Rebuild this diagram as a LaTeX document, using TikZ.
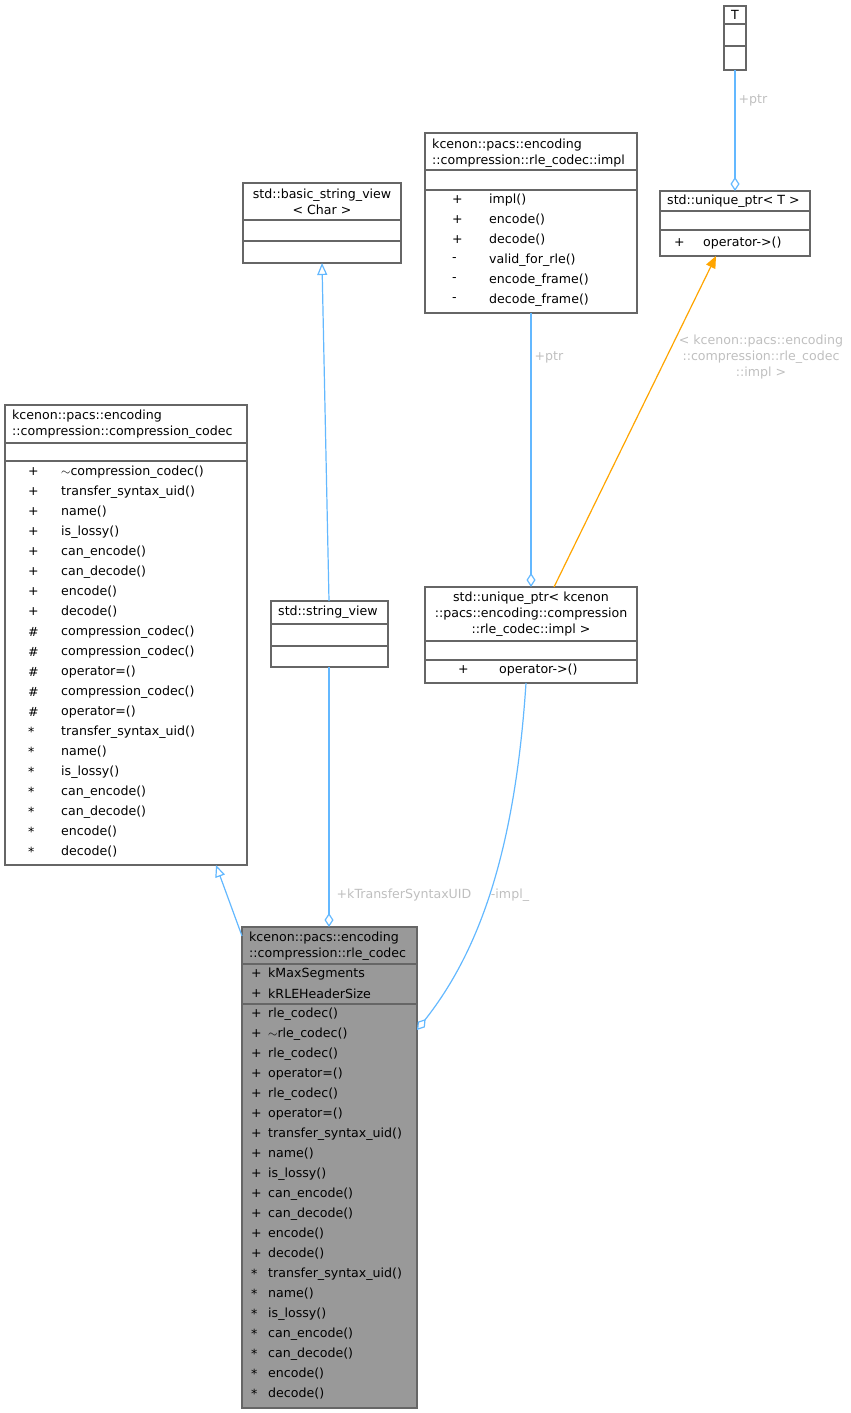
\documentclass[tikz,border=0pt]{standalone}
\usepackage{fontspec}
\setmainfont{DejaVu Sans}
\usetikzlibrary{arrows.meta}
\definecolor{edgeblue}{HTML}{63B8FF}
\definecolor{edgeorange}{HTML}{FFA500}
\definecolor{lblgray}{HTML}{BFBFBF}
\definecolor{boxgray}{HTML}{999999}
\definecolor{boxline}{HTML}{666666}
\tikzset{
  box/.style={draw=boxline,line width=1.2pt},
  txt/.style={inner sep=0pt,anchor=west,font=\fontsize{12.6}{16}\selectfont},
  ctxt/.style={inner sep=0pt,anchor=center,align=center,font=\fontsize{12.6}{16}\selectfont},
  lbl/.style={ctxt,text=lblgray},
  uses/.style={draw=edgeblue,line width=1.2pt,-{Diamond[open,length=14pt,width=9pt]}},
  inherit/.style={draw=edgeblue,line width=1.2pt,-{Triangle[open,length=12pt,width=10pt]}},
  tmpl/.style={draw=edgeorange,line width=1.2pt,-{Triangle[length=12pt,width=10pt,fill=edgeorange]}}
}
\begin{document}
\begin{tikzpicture}[x=1pt,y=-1pt]
\useasboundingbox (0,0) rectangle (851,1413);
% T
\path[box] (724,6) rectangle (746,70);
\draw[boxline,line width=1.2pt] (724,24) -- (746,24) (724,46) -- (746,46);
\node[ctxt] (tT) at (735,15) {T};
\coordinate (Tb) at (735,70);
% std::unique_ptr< T >
\path[box] (660,191) rectangle (810,256);
\draw[boxline,line width=1.2pt] (660,211) -- (810,211) (660,230) -- (810,230);
\node[txt] (tUT) at (667,201) {std::unique\_ptr< T >};
\node[txt] at (674,243) {+};
\node[txt] at (703,243) {operator->()};
\coordinate (UTt) at (735,191);
\coordinate (UTb) at (716,256);
% impl
\path[box] (425,133) rectangle (637,313);
\draw[boxline,line width=1.2pt] (425,170) -- (637,170) (425,190) -- (637,190);
\node[txt] (tImpl) at (432,145) {kcenon::pacs::encoding};
\node[txt] at (432,161) {::compression::rle\_codec::impl};
\foreach \s/\n [count=\i] in {+/impl(),+/encode(),+/decode(),-/valid\_for\_rle(),-/encode\_frame(),-/decode\_frame()}
  {\node[txt] at (452,180+20*\i) {\s}; \node[txt] at (489,180+20*\i) {\n};}
\coordinate (Ib) at (531,313);
% std::basic_string_view
\path[box] (243,183) rectangle (401,263);
\draw[boxline,line width=1.2pt] (243,220) -- (401,220) (243,241) -- (401,241);
\node[ctxt] (tBSV) at (322,202) {std::basic\_string\_view\\< Char >};
\coordinate (BSVb) at (322,263);
% compression_codec
\path[box] (5,405) rectangle (247,865);
\draw[boxline,line width=1.2pt] (5,443) -- (247,443) (5,461) -- (247,461);
\node[txt] (tCC) at (12,416) {kcenon::pacs::encoding};
\node[txt] at (12,432) {::compression::compression\_codec};
\foreach \s/\n [count=\i] in {+/$\sim$compression\_codec(),+/transfer\_syntax\_uid(),+/name(),+/is\_lossy(),+/can\_encode(),+/can\_decode(),+/encode(),+/decode(),\#/compression\_codec(),\#/compression\_codec(),\#/operator=(),\#/compression\_codec(),\#/operator=(),*/transfer\_syntax\_uid(),*/name(),*/is\_lossy(),*/can\_encode(),*/can\_decode(),*/encode(),*/decode()}
  {\node[txt] at (28,452+20*\i) {\s}; \node[txt] at (61,452+20*\i) {\n};}
\coordinate (CCb) at (216,865);
% std::string_view
\path[box] (271,601) rectangle (388,667);
\draw[boxline,line width=1.2pt] (271,624) -- (388,624) (271,646) -- (388,646);
\node[txt] (tSV) at (278,612) {std::string\_view};
\coordinate (SVt) at (329,601);
\coordinate (SVb) at (329,667);
% std::unique_ptr< impl >
\path[box] (425,587) rectangle (637,683);
\draw[boxline,line width=1.2pt] (425,641) -- (637,641) (425,660) -- (637,660);
\node[ctxt] (tUI) at (531,614) {std::unique\_ptr< kcenon\\::pacs::encoding::compression\\::rle\_codec::impl >};
\node[txt] at (458,670) {+};
\node[txt] at (499,670) {operator->()};
\coordinate (UIt) at (531,587);
\coordinate (UIo) at (554,587);
\coordinate (UIb) at (526,683);
% rle_codec
\path[box,fill=boxgray] (242,927) rectangle (417,1408);
\draw[boxline,line width=1.2pt] (242,964) -- (417,964) (242,1004) -- (417,1004);
\node[txt] (tRLE) at (249,938) {kcenon::pacs::encoding};
\node[txt] at (249,954) {::compression::rle\_codec};
\foreach \s/\n [count=\i] in {+/kMaxSegments,+/kRLEHeaderSize}
  {\node[txt] at (251,954+20*\i) {\s}; \node[txt] at (268,954+20*\i) {\n};}
\foreach \s/\n [count=\i] in {+/rle\_codec(),+/$\sim$rle\_codec(),+/rle\_codec(),+/operator=(),+/rle\_codec(),+/operator=(),+/transfer\_syntax\_uid(),+/name(),+/is\_lossy(),+/can\_encode(),+/can\_decode(),+/encode(),+/decode(),*/transfer\_syntax\_uid(),*/name(),*/is\_lossy(),*/can\_encode(),*/can\_decode(),*/encode(),*/decode()}
  {\node[txt] at (251,994+20*\i) {\s}; \node[txt] at (268,994+20*\i) {\n};}
\coordinate (Rt) at (329,927);
\coordinate (Rl) at (242,936);
\coordinate (Rr) at (417,1030);
% edges
\draw[uses] (Tb) -- (UTt);
\node[lbl] at (753,100) {+ptr};
\draw[uses] (Ib) -- (UIt);
\node[lbl] at (549,357) {+ptr};
\draw[tmpl] (UIo) -- (UTb);
\node[lbl] at (761,357) {< kcenon::pacs::encoding\\::compression::rle\_codec\\::impl >};
\draw[inherit] (SVt) -- (BSVb);
\draw[inherit] (Rl) -- (CCb);
\draw[uses] (SVb) -- (Rt);
\node[lbl] at (404,895) {+kTransferSyntaxUID};
\draw[uses] (UIb) .. controls (515,850) and (480,950) .. (Rr);
\node[lbl] at (510,895) {-impl\_};
\end{tikzpicture}
\end{document}
